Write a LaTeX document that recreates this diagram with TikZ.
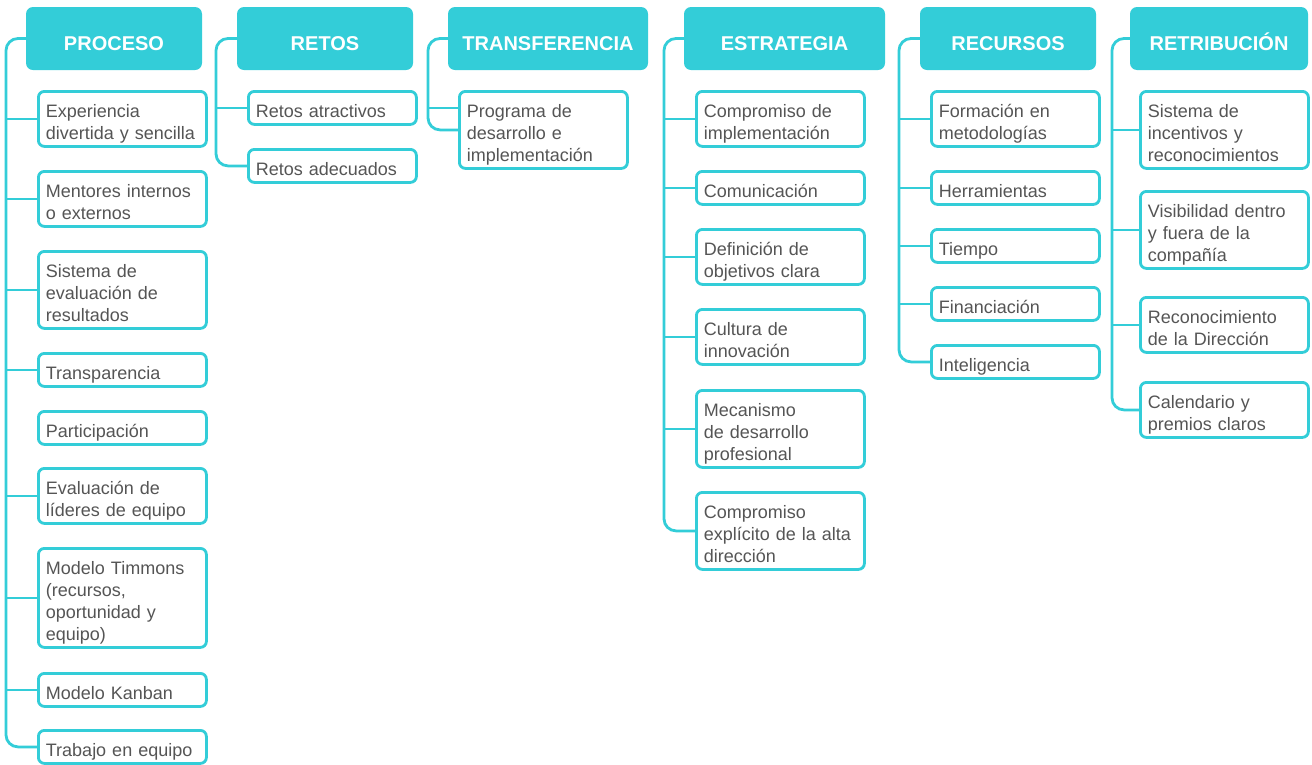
\documentclass[tikz,border=0pt]{standalone}
\usepackage{fontspec}
\setmainfont{Liberation Sans}
\usepackage{tikz}
\usetikzlibrary{positioning}
\usepackage{xcolor}
\definecolor{mapcyan}{RGB}{51,205,216}
\definecolor{itemgray}{RGB}{85,85,85}
\newcommand{\itemfont}{\fontsize{18pt}{22pt}\selectfont}
\newcommand{\headfont}{\fontsize{20pt}{24pt}\selectfont\bfseries}

\begin{document}
\begin{tikzpicture}[
    x=1pt, y=-1pt,
    head/.style={anchor=north west, fill=mapcyan, rounded corners=7pt, text=white, font=\headfont, inner sep=0pt, outer sep=0pt, minimum height=63pt, text height=43pt, text depth=20pt},
    item/.style={anchor=north west, draw=mapcyan, line width=2.8pt, rounded corners=6pt, fill=white, text=itemgray, font=\itemfont, align=left, text width=153pt, inner xsep=7.5pt, inner ysep=2.5pt, execute at begin node={\rule{0pt}{24pt}}, execute at end node={\rule[-4pt]{0pt}{4pt}}},
    spine/.style={draw=mapcyan, line width=2.8pt, rounded corners=12pt}
]
    \useasboundingbox (0,0) rectangle (1312,764);
    \clip (0,0) rectangle (1312,764);

    % Headers
    \node[head, minimum width=176pt] (proceso) at (26,7) {PROCESO};
    \node[head, minimum width=176pt] (retos) at (237,7) {RETOS};
    \node[head, minimum width=200pt] (transf) at (448,7) {TRANSFERENCIA};
    \node[head, minimum width=201pt] (estrat) at (684,7) {ESTRATEGIA};
    \node[head, minimum width=176pt] (recur) at (920,7) {RECURSOS};
    \node[head, minimum width=178pt] (retrib) at (1130,7) {RETRIBUCIÓN};

    % Spines
    \coordinate (procspine) at (6,0);
    \coordinate (retospine) at (216,0);
    \coordinate (transpine) at (428,0);
    \coordinate (estrspine) at (664,0);
    \coordinate (recuspine) at (899,0);
    \coordinate (retrspine) at (1112,0);

    % Proceso
    \node[item] (p1) at (37,90) {Experiencia\\divertida y sencilla};
    \node[item] (p2) at (37,170) {Mentores internos\\o externos};
    \node[item] (p3) at (37,250) {Sistema de\\evaluación de\\resultados};
    \node[item] (p4) at (37,352) {Transparencia};
    \node[item] (p5) at (37,410) {Participación};
    \node[item] (p6) at (37,467) {Evaluación de\\líderes de equipo};
    \node[item] (p7) at (37,547) {Modelo Timmons\\(recursos,\\oportunidad y\\equipo)};
    \node[item] (p8) at (37,672) {Modelo Kanban};
    \node[item] (p9) at (37,729) {Trabajo en equipo};

    % Retos
    \node[item] (r1) at (247,90) {Retos atractivos};
    \node[item] (r2) at (247,148) {Retos adecuados};

    % Transferencia
    \node[item] (t1) at (458,90) {Programa de\\desarrollo e\\implementación};
    \coordinate[yshift=22pt] (t1up) at (t1.west);

    % Estrategia
    \node[item] (e1) at (695,90) {Compromiso de\\implementación};
    \node[item] (e2) at (695,170) {Comunicación};
    \node[item] (e3) at (695,228) {Definición de\\objetivos clara};
    \node[item] (e4) at (695,308) {Cultura de\\innovación};
    \node[item] (e5) at (695,389) {Mecanismo\\de desarrollo\\profesional};
    \node[item] (e6) at (695,491) {Compromiso\\explícito de la alta\\dirección};

    % Recursos
    \node[item] (c1) at (930,90) {Formación en\\metodologías};
    \node[item] (c2) at (930,170) {Herramientas};
    \node[item] (c3) at (930,228) {Tiempo};
    \node[item] (c4) at (930,286) {Financiación};
    \node[item] (c5) at (930,344) {Inteligencia};

    % Retribucion
    \node[item] (b1) at (1139,90) {Sistema de\\incentivos y\\reconocimientos};
    \node[item] (b2) at (1139,190) {Visibilidad dentro\\y fuera de la\\compañía};
    \node[item] (b3) at (1139,296) {Reconocimiento\\de la Dirección};
    \node[item] (b4) at (1139,381) {Calendario y\\premios claros};

    % Connectors
    \draw[spine] (proceso.west) -- (proceso.west -| procspine) -- (p9.west -| procspine) -- (p9.west);
    \draw[spine] (p1.west -| procspine) -- (p1.west);
    \draw[spine] (p2.west -| procspine) -- (p2.west);
    \draw[spine] (p3.west -| procspine) -- (p3.west);
    \draw[spine] (p4.west -| procspine) -- (p4.west);
    \draw[spine] (p6.west -| procspine) -- (p6.west);
    \draw[spine] (p7.west -| procspine) -- (p7.west);
    \draw[spine] (p8.west -| procspine) -- (p8.west);

    \draw[spine] (retos.west) -- (retos.west -| retospine) -- (r2.west -| retospine) -- (r2.west);
    \draw[spine] (r1.west -| retospine) -- (r1.west);

    \draw[spine] (transf.west) -- (transf.west -| transpine) -- (t1.west -| transpine) -- (t1.west);
    \draw[spine] (t1up -| transpine) -- (t1up);

    \draw[spine] (estrat.west) -- (estrat.west -| estrspine) -- (e6.west -| estrspine) -- (e6.west);
    \draw[spine] (e1.west -| estrspine) -- (e1.west);
    \draw[spine] (e2.west -| estrspine) -- (e2.west);
    \draw[spine] (e3.west -| estrspine) -- (e3.west);
    \draw[spine] (e4.west -| estrspine) -- (e4.west);
    \draw[spine] (e5.west -| estrspine) -- (e5.west);

    \draw[spine] (recur.west) -- (recur.west -| recuspine) -- (c5.west -| recuspine) -- (c5.west);
    \draw[spine] (c1.west -| recuspine) -- (c1.west);
    \draw[spine] (c2.west -| recuspine) -- (c2.west);
    \draw[spine] (c3.west -| recuspine) -- (c3.west);
    \draw[spine] (c4.west -| recuspine) -- (c4.west);

    \draw[spine] (retrib.west) -- (retrib.west -| retrspine) -- (b4.west -| retrspine) -- (b4.west);
    \draw[spine] (b1.west -| retrspine) -- (b1.west);
    \draw[spine] (b2.west -| retrspine) -- (b2.west);
    \draw[spine] (b3.west -| retrspine) -- (b3.west);
\end{tikzpicture}
\end{document}
